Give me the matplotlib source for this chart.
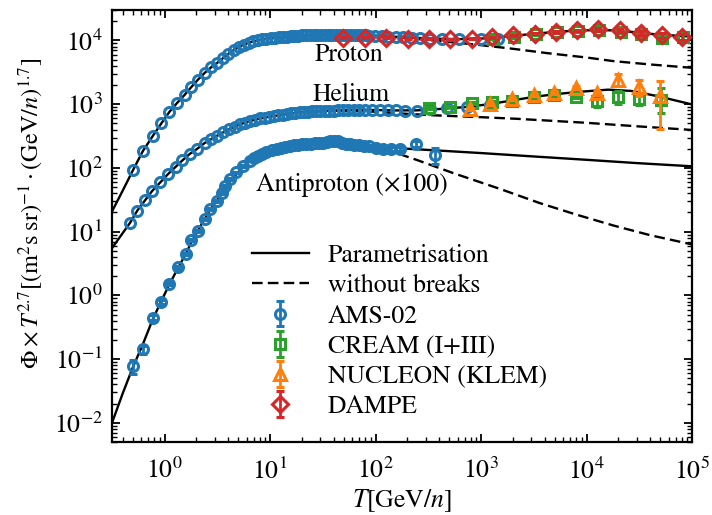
import numpy as np
import matplotlib
matplotlib.use('Agg')
from matplotlib import pyplot as plt
from matplotlib.lines import Line2D
from matplotlib.ticker import LogLocator

plt.rcParams['font.family'] = ['STIXGeneral', 'Liberation Serif', 'DejaVu Serif']
plt.rcParams['mathtext.fontset'] = 'stix'
plt.rcParams['font.size'] = 18.5

# AMS-02 proton
p_ams_T = [0.50, 0.62, 0.77, 0.93, 1.11, 1.32, 1.55, 1.79, 2.07, 2.39, 2.76, 3.14, 3.56, 4.02, 4.51,
           5.05, 5.62, 6.24, 6.91, 7.62, 8.4, 9.2, 10.1, 11.0, 12.0, 13.1, 14.3, 15.6, 17.0, 18.5,
           20.1, 21.9, 23.8, 25.9, 28.1, 30.5, 33.1, 35.9, 38.9, 42.2, 45.8, 49.6, 53.8, 58.3, 63.2,
           68.5, 74.3, 80.5, 87, 99, 114, 132, 155, 183, 219, 266, 330, 430, 620, 1000, 1450]
p_ams = [92, 183, 316, 500, 760, 1060, 1410, 1860, 2430, 3090, 3800, 4430, 5250, 6170, 7060,
         7890, 8610, 9160, 9660, 10070, 10420, 10690, 10910, 11090, 11250, 11400, 11530, 11670, 11800, 11940,
         11970, 12050, 12130, 12220, 12270, 12300, 12360, 12360, 12390, 12390, 12360, 12360, 12330, 12270, 12220,
         12130, 12080, 12000, 11910, 11800, 11670, 11530, 11380, 11220, 11070, 10890, 10690, 10570, 10420, 10420, 10590]

# AMS-02 helium
he_ams_T = [0.47, 0.55, 0.65, 0.76, 0.91, 1.07, 1.27, 1.47, 1.73, 2.02, 2.40, 2.75, 3.15, 3.6, 4.1,
            4.6, 5.2, 5.8, 6.5, 7.2, 8.0, 8.9, 9.8, 10.8, 11.9, 13.1, 14.4, 15.8, 17.3, 19.0,
            20.8, 22.8, 25.0, 27.4, 30.0, 33, 36, 40, 44, 49, 55, 62, 70, 80, 93,
            110, 130, 155, 190, 245, 330, 470, 730, 1210]
he_ams = [13.8, 21.4, 30.9, 43.4, 59.4, 79.4, 104, 131, 166, 198, 247, 282, 322, 363, 407,
          445, 484, 515, 548, 573, 597, 618, 635, 650, 667, 682, 700, 716, 731, 748,
          757, 762, 771, 776, 782, 787, 791, 794, 798, 804, 805, 809, 811, 813, 811,
          807, 804, 798, 794, 794, 828, 871, 902, 977]

# AMS-02 antiproton (x100)
pb_ams_T = [0.50, 0.62, 0.77, 0.93, 1.11, 1.34, 1.58, 1.79, 2.07, 2.39, 2.67, 3.10, 3.48, 3.71, 4.13,
            4.79, 5.55, 6.40, 6.98, 7.67, 8.4, 9.23, 10.3, 11.5, 12.8, 13.9, 15.3, 16.9, 18.5, 20.2,
            22.1, 24.3, 26.5, 29.0, 31.8, 34.5, 37.2, 40.5, 44.0, 48.0, 52.2, 57.0, 62.5, 69, 77,
            87, 100, 117, 140, 170, 240, 365]
pb_ams = [0.078, 0.142, 0.448, 0.787, 1.53, 2.74, 4.43, 7.35, 10.3, 15.7, 22.6, 30.5, 40.3, 52.5, 66.8,
          85.3, 108, 130, 143, 156, 166, 176, 188, 198, 207, 214, 223, 227, 231, 235,
          238, 241, 243, 245, 246, 255, 262, 268, 262, 250, 240, 236, 230, 226, 224,
          218, 205, 198, 196, 198, 238, 161]
pb_ams_err = [0.02, 0.02, 0.04, 0.06, 0.09, 0.14, 0.2, 0.3, 0.4, 0.6, 0.8, 1.0, 1.3, 1.6, 2.0,
              2.5, 3.0, 3.5, 4, 4, 4.5, 5, 5, 5.5, 5.5, 6, 6, 6.5, 6.5, 7,
              7, 7, 7.5, 7.5, 8, 8.5, 9, 9, 9.5, 10, 10, 10.5, 11, 11, 12,
              12, 13, 14, 15, 17, 22, 47]

# DAMPE proton
p_dampe_T = [49, 79, 125, 201, 322, 506, 813, 1260, 2020, 3240, 5130, 8170, 12900, 20700, 32600, 51500, 81000]
p_dampe = [11030, 11030, 11030, 10630, 10630, 10370, 10630, 11300, 11990, 12740, 13550, 14360, 14890,
           14360, 13070, 11990, 11300]
p_dampe_err = [120, 120, 130, 130, 140, 150, 170, 200, 250, 300, 380, 480, 600, 750, 900, 1100, 1300]

# CREAM proton
p_cream_T = [1300, 2050, 3300, 5200, 8300, 13100, 21000, 33000, 52000, 82000]
p_cream = [10630, 11300, 12420, 13550, 14060, 14360, 13550, 12420, 11030, 11300]
p_cream_err = [150, 180, 220, 280, 350, 450, 550, 700, 900, 1200]

# CREAM helium
he_cream_T = [320, 512, 820, 1267, 1960, 3140, 4960, 7890, 12450, 19680, 31340, 50600]
he_cream = [875, 916, 1038, 1075, 1114, 1315, 1400, 1315, 1114, 1315, 1211, 1169]
he_cream_lo = [20, 25, 30, 35, 40, 50, 60, 75, 200, 300, 225, 450]
he_cream_hi = [20, 25, 30, 35, 40, 50, 60, 75, 250, 320, 240, 630]

# NUCLEON (KLEM) helium
he_nuc_T = [790, 1225, 1960, 3140, 4960, 7890, 12450, 19680, 31340, 49530]
he_nuc = [844, 1011, 1211, 1400, 1506, 1803, 1506, 2410, 1849, 1365]
he_nuc_lo = [30, 40, 50, 60, 80, 100, 100, 450, 484, 956]
he_nuc_hi = [30, 40, 50, 60, 80, 100, 100, 580, 590, 935]

# Parametrisation (with breaks)
p_fit_T = [0.32, 0.4, 0.5, 0.62, 0.77, 0.93, 1.11, 1.32, 1.55, 1.79, 2.07, 2.39, 2.76, 3.14, 3.56,
           4.02, 4.51, 5.05, 5.62, 6.24, 6.91, 7.62, 8.4, 9.2, 10.1, 12, 14.3, 17, 20, 25,
           30, 40, 50, 60, 80, 100, 150, 200, 300, 400, 600, 800, 1100, 1500, 2000,
           3000, 4500, 6000, 8650, 12000, 17900, 25000, 35000, 50000, 70000, 100000]
p_fit = [21.5, 44, 92, 183, 316, 500, 760, 1060, 1410, 1860, 2430, 3090, 3800, 4430, 5250,
         6170, 7060, 7890, 8610, 9160, 9660, 10070, 10420, 10690, 10910, 11250, 11530, 11800, 11970, 12180,
         12300, 12390, 12360, 12250, 12020, 11800, 11450, 11150, 10800, 10600, 10500, 10550, 10800, 11250, 11800,
         12600, 13400, 13900, 14300, 14550, 14400, 13800, 13000, 12300, 11900, 11500]

he_fit_T = [0.32, 0.4, 0.47, 0.55, 0.65, 0.76, 0.91, 1.07, 1.27, 1.47, 1.73, 2.02, 2.4, 3.15, 4.1,
            5.2, 6.5, 8, 9.8, 11.9, 14.4, 17.3, 20.8, 25, 30, 40, 55, 80, 110,
            155, 245, 400, 700, 1200, 2000, 3140, 4960, 8360, 16000, 26500, 47700, 100000]
he_fit = [5.65, 9.5, 13.8, 21.4, 30.9, 43.4, 59.4, 79.4, 104, 131, 166, 198, 247, 322, 407,
          484, 548, 597, 635, 667, 700, 731, 757, 771, 782, 794, 805, 813, 807,
          798, 800, 840, 900, 1000, 1150, 1300, 1430, 1560, 1690, 1614, 1331, 990]

pb_fit_T = [0.32, 0.4, 0.5, 0.62, 0.77, 0.93, 1.11, 1.34, 1.58, 1.79, 2.07, 2.39, 2.67, 3.1, 3.48,
            4.13, 4.79, 5.55, 6.4, 7.67, 9.23, 11.5, 15.3, 22, 30, 40, 60, 100, 200,
            400, 1000, 3000, 10000, 30000, 100000]
pb_fit = [0.0105, 0.029, 0.075, 0.17, 0.42, 0.82, 1.5, 2.7, 4.45, 6.8, 10.5, 15.7, 21.5, 30.5, 39.5,
          60, 80, 104, 128, 155, 178, 198, 220, 235, 242, 244, 238, 222, 200,
          187, 171, 152, 134, 119, 106]

# Parametrisation without breaks (only where it departs)
p_nb_T = [30, 60, 100, 200, 400, 900, 2000, 4180, 10000, 17900, 40000, 100000]
p_nb = [12300, 12200, 11750, 10900, 9800, 8600, 7400, 6340, 5400, 4740, 4200, 3720]
he_nb_T = [30, 60, 100, 200, 350, 1000, 2170, 10000, 30000, 100000]
he_nb = [782, 790, 760, 705, 670, 625, 590, 510, 450, 394]
pb_nb_T = [30, 50, 80, 136, 250, 543, 1500, 3610, 8000, 17900, 40000, 100000]
pb_nb = [242, 236, 218, 186, 132, 83, 47, 28, 18.5, 12.5, 8.8, 6.3]

x_major = [1e0, 1e1, 1e2, 1e3, 1e4, 1e5]
y_major = [1e-2, 1e-1, 1e0, 1e1, 1e2, 1e3, 1e4]

c_ams = '#1f77b4'
c_cream = '#2ca02c'
c_nuc = '#ff7f0e'
c_dampe = '#d62728'

fig = plt.figure(figsize=(7.12, 5.15), dpi=100)
ax = fig.add_axes([0.158, 0.1417, 0.814, 0.8388])

lw = 1.7
dash = (0, (4.5, 2.2))
for T, v in [(p_fit_T, p_fit), (he_fit_T, he_fit), (pb_fit_T, pb_fit)]:
    ax.plot(T, v, color='k', lw=lw, zorder=1)
for T, v in [(p_nb_T, p_nb), (he_nb_T, he_nb), (pb_nb_T, pb_nb)]:
    ax.plot(T, v, color='k', lw=lw, ls=dash, zorder=1)

mk = dict(mfc='none', mew=2.2, elinewidth=2.0, capsize=3.2, capthick=2.0, ls='none')

ax.errorbar(p_ams_T, p_ams, yerr=None, fmt='o', ms=7.2, color=c_ams, zorder=2, **mk)
ax.errorbar(he_ams_T, he_ams, yerr=None, fmt='o', ms=7.2, color=c_ams, zorder=2, **mk)
h_ams = ax.errorbar(pb_ams_T, pb_ams, yerr=pb_ams_err, fmt='o', ms=7.2, color=c_ams, zorder=2, **mk)

h_cream = ax.errorbar(p_cream_T, p_cream, yerr=p_cream_err, fmt='s', ms=7.5, color=c_cream, zorder=3, **mk)
ax.errorbar(he_cream_T, he_cream, yerr=[he_cream_lo, he_cream_hi], fmt='s', ms=7.5, color=c_cream, zorder=3, **mk)

h_nuc = ax.errorbar(he_nuc_T, he_nuc, yerr=[he_nuc_lo, he_nuc_hi], fmt='^', ms=9, color=c_nuc, zorder=4, **mk)

h_dampe = ax.errorbar(p_dampe_T, p_dampe, yerr=p_dampe_err, fmt='D', ms=8, color=c_dampe, zorder=5, **mk)

ax.set_xscale('log')
ax.set_yscale('log')
ax.set_xticks(x_major)
ax.set_yticks(y_major)
ax.xaxis.set_minor_locator(LogLocator(base=10, subs=np.arange(2, 10), numticks=20))
ax.yaxis.set_minor_locator(LogLocator(base=10, subs=np.arange(2, 10), numticks=20))
ax.set_xlim(0.32, 1e5)
ax.set_ylim(5e-3, 3e4)

ax.text(26.5, 4800, 'Proton')
ax.text(25.5, 1140, 'Helium')
ax.text(7.4, 44, 'Antiproton (×100)')

ax.set_xlabel(r'$T[\mathrm{GeV}/n]$', labelpad=2)
ax.set_ylabel(r'$\Phi\times T^{2.7}[(\mathrm{m}^2\mathrm{s}\;\mathrm{sr})^{-1}\cdot(\mathrm{GeV}/n)^{1.7}]$',
              fontsize=17.5)
ax.yaxis.set_label_coords(-0.115, 0.53)

ax.tick_params(which='both', direction='in', top=True, right=True)
ax.tick_params(which='major', length=6, width=1.3)
ax.tick_params(which='minor', length=3.5, width=1.0)
ax.tick_params(axis='x', which='major', pad=12)
ax.tick_params(axis='y', which='major', pad=7)
for s in ax.spines.values():
    s.set_linewidth(1.6)

l_par = Line2D([], [], color='k', lw=lw)
l_nb = Line2D([], [], color='k', lw=lw, ls=dash)
ax.legend([l_par, l_nb, h_ams, h_cream, h_nuc, h_dampe],
          ['Parametrisation', 'without breaks', 'AMS-02', 'CREAM (I+III)', 'NUCLEON (KLEM)', 'DAMPE'],
          loc='lower left', bbox_to_anchor=(0.241, 0.053), borderaxespad=0, borderpad=0,
          handlelength=2.2, handletextpad=0.75, labelspacing=0.24, frameon=False, numpoints=1)

fig.savefig('out.png', dpi=100)
